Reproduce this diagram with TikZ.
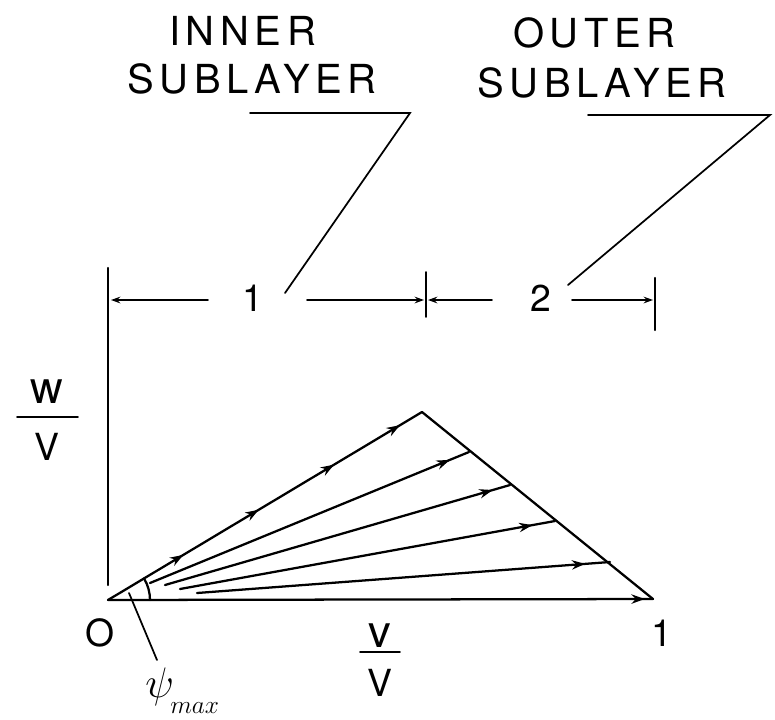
\RequirePackage{fix-cm}
\documentclass[tikz,border=0pt]{standalone}
\usepackage{fontspec}
\setmainfont{TeX Gyre Heros}
\newfontfamily\spacedfont[LetterSpace=14]{TeX Gyre Heros}
\usetikzlibrary{arrows.meta,decorations.markings}
\tikzset{
  vtip/.tip={Stealth[length=10pt,width=7pt]},
  dtip/.tip={Stealth[length=7pt,width=5pt]},
  ln/.style={line width=1.7pt,line cap=round},
  thin ln/.style={line width=1.3pt,line cap=round},
  lbl/.style={inner sep=0pt,anchor=base west,font=\fontsize{30}{36}\selectfont\spacedfont},
  num/.style={inner sep=0pt,font=\fontsize{28}{34}\selectfont},
  lc/.style={inner sep=0pt,anchor=base,font=\fontsize{34}{40}\selectfont},
  endmark/.style={postaction={decorate},decoration={markings,mark=at position #1 with {\arrow{vtip}}}},
}
\begin{document}
\begin{tikzpicture}[x=0.75pt,y=-0.75pt]
\useasboundingbox (0,0) rectangle (775,719);
% titles
\node[lbl] (inner) at (169,45) {INNER};
\node[lbl] (sub1) at (127,93) {SUBLAYER};
\node[lbl] (outer) at (513,47) {OUTER};
\node[lbl] (sub2) at (477,97) {SUBLAYER};
% leaders
\coordinate (u1a) at (250,113);
\coordinate (u1b) at (410,113);
\coordinate (u1c) at (285,293);
\coordinate (u2a) at (588,115);
\coordinate (u2b) at (770,115);
\coordinate (u2c) at (568,285);
\draw[thin ln] (u1a) -- (u1b) -- (u1c);
\draw[thin ln] (u2a) -- (u2b) -- (u2c);
% dimension line
\coordinate (axtop) at (108,268);
\coordinate (axbot) at (108,585);
\coordinate (m1) at (426,272);
\coordinate (m2) at (426,317);
\coordinate (r1) at (655,278);
\coordinate (r2) at (655,330);
\draw[ln] (axtop) -- (axbot);
\draw[thin ln] (m1) -- (m2);
\draw[ln] (r1) -- (r2);
\node[num] (one) at (253,298) {1};
\node[num] (two) at (541,298) {2};
\coordinate (d1s) at (208,300);
\coordinate (d1e) at (111,300);
\coordinate (d2s) at (307,300);
\coordinate (d2e) at (424,300);
\coordinate (d3s) at (492,300);
\coordinate (d3e) at (428,300);
\coordinate (d4s) at (572,300);
\coordinate (d4e) at (653,300);
\draw[thin ln,-{dtip}] (d1s) -- (d1e);
\draw[thin ln,-{dtip}] (d2s) -- (d2e);
\draw[thin ln,-{dtip}] (d3s) -- (d3e);
\draw[thin ln,-{dtip}] (d4s) -- (d4e);
% vector diagram
\coordinate (O) at (108,600);
\coordinate (apex) at (422,412);
\coordinate (E) at (653,599);
\coordinate (s2) at (150,583);
\coordinate (e2) at (469,452);
\coordinate (s3) at (165,585);
\coordinate (e3) at (510,485);
\coordinate (s4) at (180,589);
\coordinate (e4) at (555,521);
\coordinate (s5) at (197,593);
\coordinate (e5) at (610,562);
\draw[ln] (apex) -- (E);
\draw[ln,postaction={decorate},decoration={markings,
  mark=at position 0.24 with {\arrow{vtip}},
  mark=at position 0.48 with {\arrow{vtip}},
  mark=at position 0.72 with {\arrow{vtip}},
  mark=at position 0.93 with {\arrow{vtip}}}] (O) -- (apex);
\draw[ln,endmark=0.94] (s2) -- (e2);
\draw[ln,endmark=0.95] (s3) -- (e3);
\draw[ln,endmark=0.94] (s4) -- (e4);
\draw[ln,endmark=0.94] (s5) -- (e5);
\draw[ln,endmark=0.985] (O) -- (E);
% angle
\coordinate (arcstart) at (150,600);
\draw[ln] (arcstart) arc[start angle=0,end angle=31,radius=31.5pt];
\coordinate (psil1) at (129,593);
\coordinate (psil2) at (157,660);
\draw[thin ln] (psil1) -- (psil2);
\node[inner sep=0pt,anchor=base west,font=\fontsize{32}{38}\selectfont] (psi) at (145,697) {$\psi$};
\node[inner sep=0pt,anchor=base west,font=\fontsize{19}{23}\selectfont] (psisub) at (170,713) {$max$};
% axis labels
\node[num] (zero) at (100,633) {O};
\node[num] (oneR) at (662,633) {1};
\node[lc] (wnum) at (47,403) {w};
\coordinate (wb1) at (17,417);
\coordinate (wb2) at (78,417);
\draw[thin ln] (wb1) -- (wb2);
\node[num,anchor=base] (wden) at (47,460) {V};
\node[lc] (vnum) at (380,647) {v};
\coordinate (vb1) at (360,652);
\coordinate (vb2) at (400,652);
\draw[thin ln] (vb1) -- (vb2);
\node[num,anchor=base] (vden) at (380,696) {V};
\end{tikzpicture}
\end{document}
